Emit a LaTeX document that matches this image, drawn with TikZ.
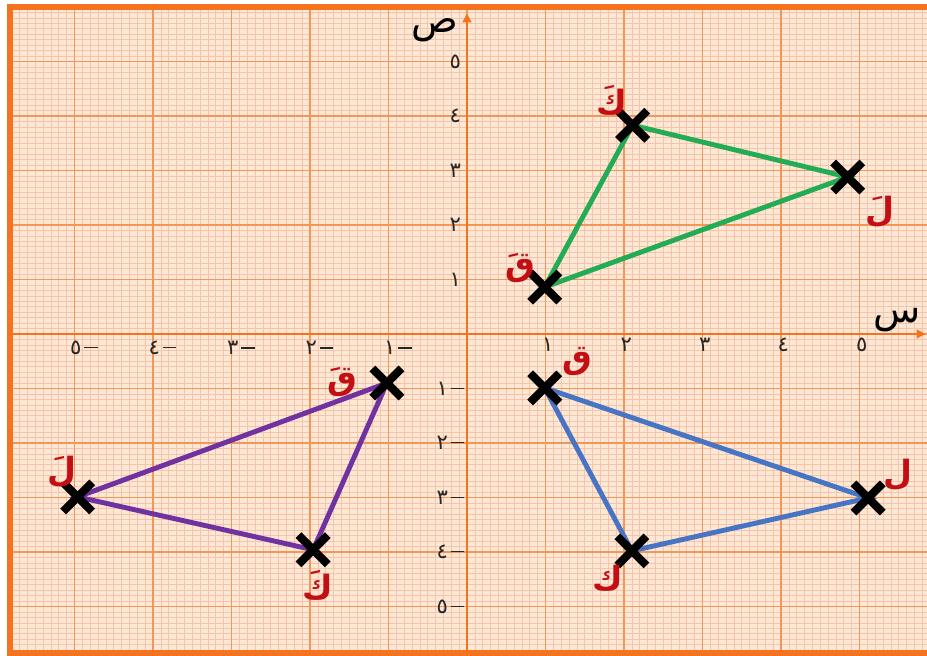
\documentclass[tikz,border=0pt]{standalone}
\usepackage{fontspec}
\usetikzlibrary{shapes.misc,arrows.meta}
\newfontfamily\arabicfont[Script=Arabic]{DejaVu Sans}
\TeXXeTstate=1

\definecolor{paper}{RGB}{253,232,214}
\definecolor{minorc}{RGB}{246,196,170}
\definecolor{majorc}{RGB}{242,150,90}
\definecolor{axisc}{RGB}{245,115,30}
\definecolor{trigreen}{RGB}{35,172,85}
\definecolor{triblue}{RGB}{72,116,196}
\definecolor{tripurple}{RGB}{112,50,160}
\definecolor{labelred}{RGB}{195,15,20}

\newcommand{\negdash}{\hspace{1.5pt}\rule[0.3em]{0.65em}{0.6pt}}

\tikzset{
  minorline/.style={minorc, line width=0.35pt},
  majorline/.style={majorc, line width=1pt},
  axisline/.style={axisc, line width=1.6pt},
  borderline/.style={axisc, line width=3.4pt},
  side/.style={line width=2.8pt, line cap=round},
  xmark/.style={cross out, draw=black, line width=4.6pt, minimum size=12pt, inner sep=0pt},
  vlabel/.style={text=labelred, font=\arabicfont\bfseries\fontsize{19}{20}\selectfont, inner sep=0pt},
  ticklabel/.style={text=black!85, font=\arabicfont\fontsize{12}{13}\selectfont, inner sep=0pt},
  axislabel/.style={text=black, font=\arabicfont\fontsize{22}{24}\selectfont, inner sep=0pt}
}

\begin{document}
\begin{tikzpicture}[x=1.57cm, y=1.09cm]
        \useasboundingbox (-5.949,-5.908) rectangle (5.860,6.128);

        % Draw graph paper
        \fill[paper] (-5.82,-5.85) rectangle (5.86,6.0);
        \foreach \i in {-58,...,58}
            \draw[minorline] (\i/10,-5.85) -- (\i/10,6.0);
        \foreach \i in {-58,...,59}
            \draw[minorline] (-5.82,\i/10) -- (5.86,\i/10);
        \foreach \i in {-5,...,5} {
            \draw[majorline] (\i,-5.85) -- (\i,6.0);
            \draw[majorline] (-5.82,\i) -- (5.86,\i);
        }
        \draw[borderline] (5.86,6.0) -- (-5.82,6.0) -- (-5.82,-5.85) -- (5.86,-5.85);

        % Draw axes
        \draw[axisline, -{Triangle[length=5pt,width=5pt]}] (-5.82,0) -- (5.84,0);
        \draw[axisline, -{Triangle[length=5pt,width=5pt]}] (0,-5.85) -- (0,5.88);
        \node[axislabel] (ylab) at (-0.41,5.58) {\beginR ص\endR};
        \node[axislabel] (xlab) at (5.48,0.26) {\beginR س\endR};

        % Tick labels
        \foreach \i/\d in {1/١,2/٢,3/٣,4/٤,5/٥} {
            \node[ticklabel] (xp\i) at (\i+0.03,-0.2) {\d};
            \node[ticklabel, anchor=west] (xn\i) at (-\i-0.06,-0.26) {\d\negdash};
            \node[ticklabel] (yp\i) at (-0.15,\i) {\d};
            \node[ticklabel, anchor=east] (yn\i) at (-0.03,-\i) {\d\negdash};
        }

        % Vertices
        \coordinate (gQ) at (0.99,0.86);
        \coordinate (gK) at (2.11,3.83);
        \coordinate (gL) at (4.85,2.88);
        \coordinate (bQ) at (0.99,-0.99);
        \coordinate (bK) at (2.10,-3.98);
        \coordinate (bL) at (5.11,-3.01);
        \coordinate (pQ) at (-1.02,-0.90);
        \coordinate (pK) at (-1.96,-3.96);
        \coordinate (pL) at (-4.96,-2.99);

        % Draw triangles
        \draw[side, trigreen] (gQ) -- (gK) -- (gL) -- cycle;
        \draw[side, triblue] (bQ) -- (bK) -- (bL) -- cycle;
        \draw[side, tripurple] (pQ) -- (pK) -- (pL) -- cycle;
        \foreach \v in {gQ,gK,gL,bQ,bK,bL,pQ,pK,pL}
            \node[xmark] (\v-x) at (\v) {};

        % Vertex labels
        \node[vlabel] (gKl) at (1.85,4.29) {\beginR كَ\endR};
        \node[vlabel] (gQl) at (0.68,1.21) {\beginR قَ\endR};
        \node[vlabel] (gLl) at (5.26,2.24) {\beginR لَ\endR};
        \node[vlabel] (bQl) at (1.41,-0.51) {\beginR ق\endR};
        \node[vlabel] (bKl) at (1.80,-4.48) {\beginR ك\endR};
        \node[vlabel] (bLl) at (5.49,-2.59) {\beginR ل\endR};
        \node[vlabel] (pQl) at (-1.59,-0.88) {\beginR قَ\endR};
        \node[vlabel] (pLl) at (-5.16,-2.53) {\beginR لَ\endR};
        \node[vlabel] (pKl) at (-1.90,-4.61) {\beginR كَ\endR};
\end{tikzpicture}
\end{document}
